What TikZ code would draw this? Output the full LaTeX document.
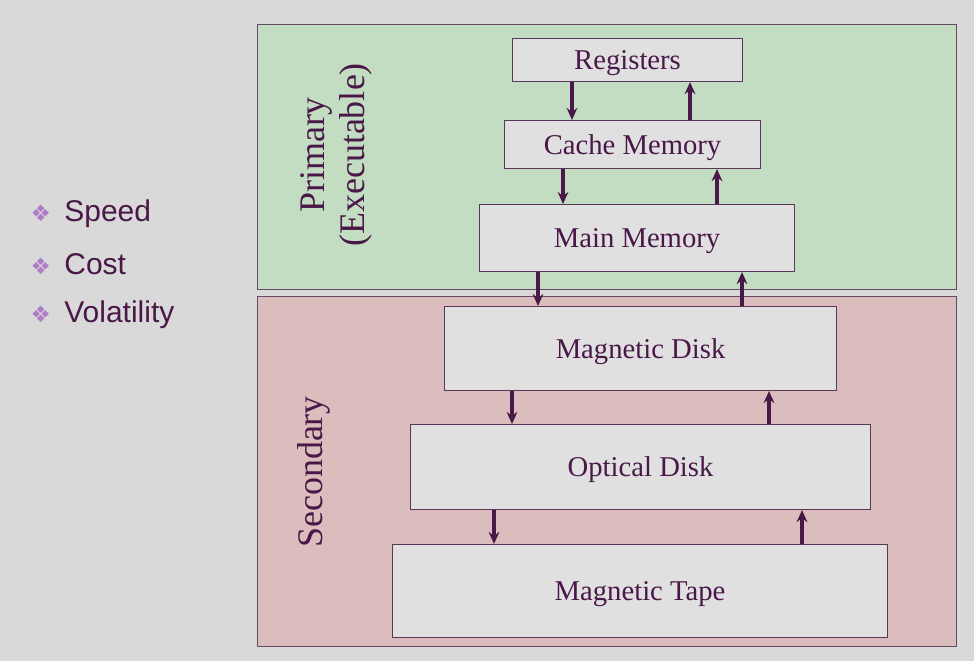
\documentclass[tikz,border=0pt]{standalone}
\usepackage{fontspec}
\setmainfont{Liberation Serif}
\newfontfamily\bulletfont{Liberation Sans}
\newfontfamily\symfont{DejaVu Sans}
\usetikzlibrary{arrows.meta}
\definecolor{slidebg}{HTML}{D9D9D9}
\definecolor{primfill}{HTML}{C2DDC2}
\definecolor{secfill}{HTML}{DBBDBD}
\definecolor{boxfill}{HTML}{E0E0E0}
\definecolor{ink}{HTML}{4A1848}
\definecolor{bulletpink}{HTML}{B07CC8}
\tikzset{
  level/.style={draw=ink!70!gray, fill=boxfill, line width=0.8pt, text=ink,
    font=\fontsize{21.5}{24}\selectfont, anchor=north west, inner sep=0pt, text depth=0pt},
  flow/.style={draw=ink, line width=3pt, -{Stealth[length=9pt,width=8pt]}},
  bullet/.style={anchor=west, text=ink, font=\bulletfont\fontsize{22.5}{26}\selectfont}
}
\begin{document}
\begin{tikzpicture}[x=0.75pt,y=-0.75pt]
\fill[slidebg] (0,0) rectangle (974,661);
\useasboundingbox (0,0) rectangle (974,661);

% storage classes
\fill[primfill, draw=ink!50!gray] (257,24) rectangle (956,289);
\fill[secfill, draw=ink!50!gray] (257,296) rectangle (956,646);
\node (prim) [rotate=90, text=ink, align=center, font=\fontsize{27}{30}\selectfont] at (336,155) {Primary\\(Executable)};
\node (sec) [rotate=90, text=ink, font=\fontsize{27}{30}\selectfont] at (314,472) {Secondary};

% hierarchy
\node (reg) [level, minimum width=230*0.75pt, minimum height=43*0.75pt] at (512,38) {Registers};
\node (cache) [level, minimum width=256*0.75pt, minimum height=48*0.75pt] at (504,120) {Cache Memory};
\node (main) [level, minimum width=315*0.75pt, minimum height=67*0.75pt] at (479,204) {Main Memory};
\node (mdisk) [level, minimum width=392*0.75pt, minimum height=84*0.75pt] at (444,306) {Magnetic Disk};
\node (odisk) [level, minimum width=460*0.75pt, minimum height=85*0.75pt] at (410,424) {Optical Disk};
\node (tape) [level, minimum width=495*0.75pt, minimum height=93*0.75pt] at (392,544) {Magnetic Tape};

\draw[flow] (572,0 |- reg.south) -- (572,0 |- cache.north);
\draw[flow] (690,0 |- cache.north) -- (690,0 |- reg.south);
\draw[flow] (563,0 |- cache.south) -- (563,0 |- main.north);
\draw[flow] (717,0 |- main.north) -- (717,0 |- cache.south);
\draw[flow] (538,0 |- main.south) -- (538,0 |- mdisk.north);
\draw[flow] (742,0 |- mdisk.north) -- (742,0 |- main.south);
\draw[flow] (512,0 |- mdisk.south) -- (512,0 |- odisk.north);
\draw[flow] (769,0 |- odisk.north) -- (769,0 |- mdisk.south);
\draw[flow] (494,0 |- odisk.south) -- (494,0 |- tape.north);
\draw[flow] (802,0 |- tape.north) -- (802,0 |- odisk.south);

% criteria
\node (speed) [bullet] at (26,214) {{\symfont\color{bulletpink}\fontsize{17}{20}\selectfont ❖}\, Speed};
\node (cost) [bullet] at (26,264) {{\symfont\color{bulletpink}\fontsize{17}{20}\selectfont ❖}\, Cost};
\node (vol) [bullet] at (26,315) {{\symfont\color{bulletpink}\fontsize{17}{20}\selectfont ❖}\, Volatility};
\end{tikzpicture}
\end{document}
